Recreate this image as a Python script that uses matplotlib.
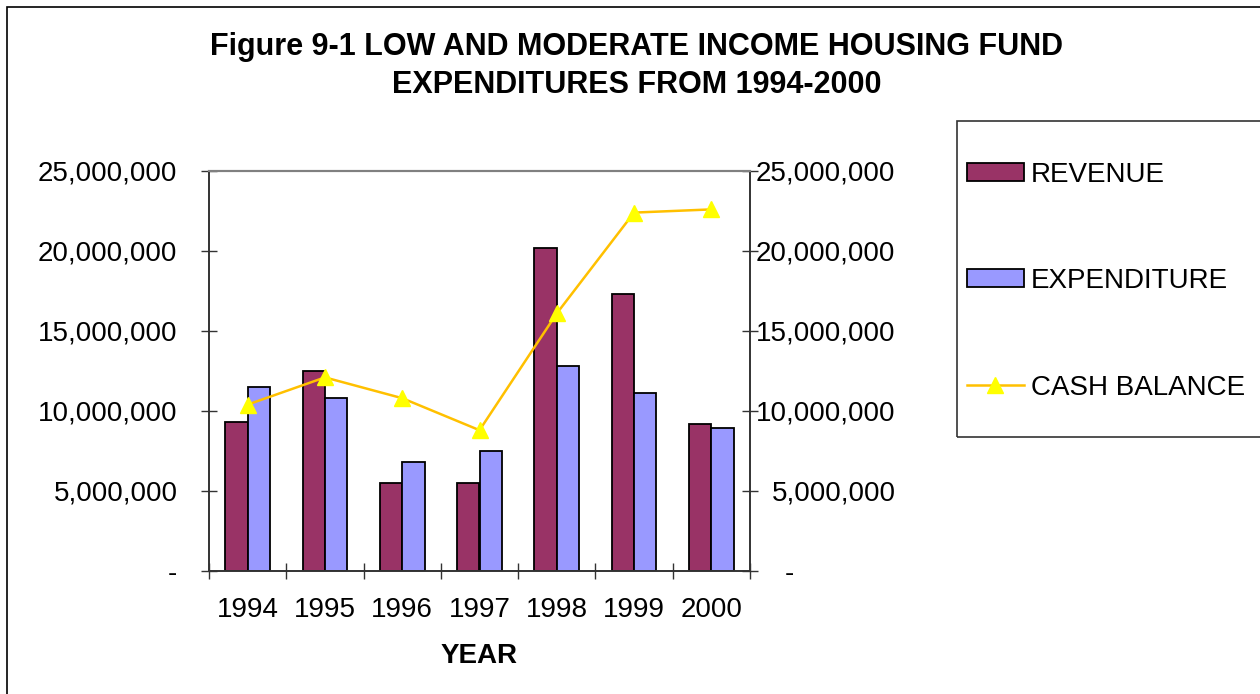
import matplotlib
matplotlib.use("Agg")
import matplotlib.pyplot as plt
import numpy as np
from matplotlib.patches import Rectangle, Patch
from matplotlib.lines import Line2D
from matplotlib.ticker import FuncFormatter, FixedLocator

plt.rcParams['font.family'] = ['Liberation Sans', 'DejaVu Sans']

years = ['1994', '1995', '1996', '1997', '1998', '1999', '2000']
revenue = [9300000, 12500000, 5500000, 5500000, 20200000, 17300000, 9200000]
expenditure = [11500000, 10800000, 6800000, 7500000, 12800000, 11100000, 8950000]
cash_balance = [10400000, 12100000, 10800000, 8800000, 16100000, 22400000, 22600000]

W, H = 1260, 694
FS = 20
fig = plt.figure(figsize=(W / 100, H / 100), dpi=100)

# outer chart border (left and top edges visible)
fig.patches.append(Rectangle((7 / W, -0.05), 1.1, 1 - 7 / H + 0.05, transform=fig.transFigure,
                             fill=False, edgecolor='black', linewidth=1.2))

ax = fig.add_axes([209 / W, 1 - 571 / H, (750 - 209) / W, (571 - 171) / H])
ax2 = ax.twinx()

x = np.arange(len(years))
bw = 0.29
ax.bar(x - bw / 2, revenue, bw, color='#993366', edgecolor='black', linewidth=1.3, zorder=2)
ax.bar(x + bw / 2, expenditure, bw, color='#9999FF', edgecolor='black', linewidth=1.3, zorder=2)
ax2.plot(x, cash_balance, color='#FFC000', linewidth=1.8, marker='^', markersize=12,
         markerfacecolor='#FFFF00', markeredgecolor='#FFFF00', zorder=3)

for a in (ax, ax2):
    a.set_xlim(-0.5, len(years) - 0.5)
    a.set_ylim(0, 25000000)
    a.yaxis.set_major_locator(FixedLocator(np.arange(0, 25000001, 5000000)))

ax.yaxis.set_major_formatter(FuncFormatter(lambda v, p: '-' if v == 0 else f'{int(v):,}'))
ax2.yaxis.set_major_formatter(FuncFormatter(lambda v, p: '-' + ' ' * 13 if v == 0 else f'{int(v):,}'))

ax.set_xticks(x)
ax.set_xticklabels(years)
ax.set_xticks(np.arange(-0.5, len(years)), minor=True)
ax.tick_params(axis='x', which='major', length=0, pad=19, labelsize=FS)
ax.tick_params(axis='x', which='minor', length=11.5, direction='inout', width=1, color='#333333')
ax.tick_params(axis='y', length=11.5, direction='inout', width=1, color='#333333', labelsize=FS, pad=17)
ax2.tick_params(axis='y', length=11.5, direction='inout', width=1, color='#333333', labelsize=FS, pad=99)
for lab in ax2.get_yticklabels():
    lab.set_horizontalalignment('right')

for a in (ax, ax2):
    for side in ('left', 'right', 'bottom'):
        a.spines[side].set_color('#333333')
        a.spines[side].set_linewidth(1.2)
    a.spines['top'].set_color('#808080')
    a.spines['top'].set_linewidth(1.5)

ax.set_xlabel('YEAR', fontsize=FS, fontweight='bold', labelpad=14)

fig.text(637 / W, 1 - 66 / H,
         'Figure 9-1 LOW AND MODERATE INCOME HOUSING FUND\nEXPENDITURES FROM 1994-2000',
         ha='center', va='center', fontsize=22, fontweight='bold', linespacing=1.34)

# legend
fig.patches.append(Rectangle((957 / W, 1 - 437 / H), 0.3, (437 - 121) / H, transform=fig.transFigure,
                             fill=False, edgecolor='#333333', linewidth=1.2))
handles = [
    Patch(facecolor='#993366', edgecolor='black', linewidth=1.3),
    Patch(facecolor='#9999FF', edgecolor='black', linewidth=1.3),
    Line2D([], [], color='#FFC000', linewidth=1.8, marker='^', markersize=12,
           markerfacecolor='#FFFF00', markeredgecolor='#FFFF00'),
]
fig.legend(handles, ['REVENUE', 'EXPENDITURE', 'CASH BALANCE'],
           loc='upper left', bbox_to_anchor=(967 / W, 1 - 161.5 / H), frameon=False,
           fontsize=FS, handlelength=2.05, handleheight=0.62, handletextpad=0.25,
           labelspacing=2.9, borderpad=0, borderaxespad=0)

fig.savefig('out.png', dpi=100)
